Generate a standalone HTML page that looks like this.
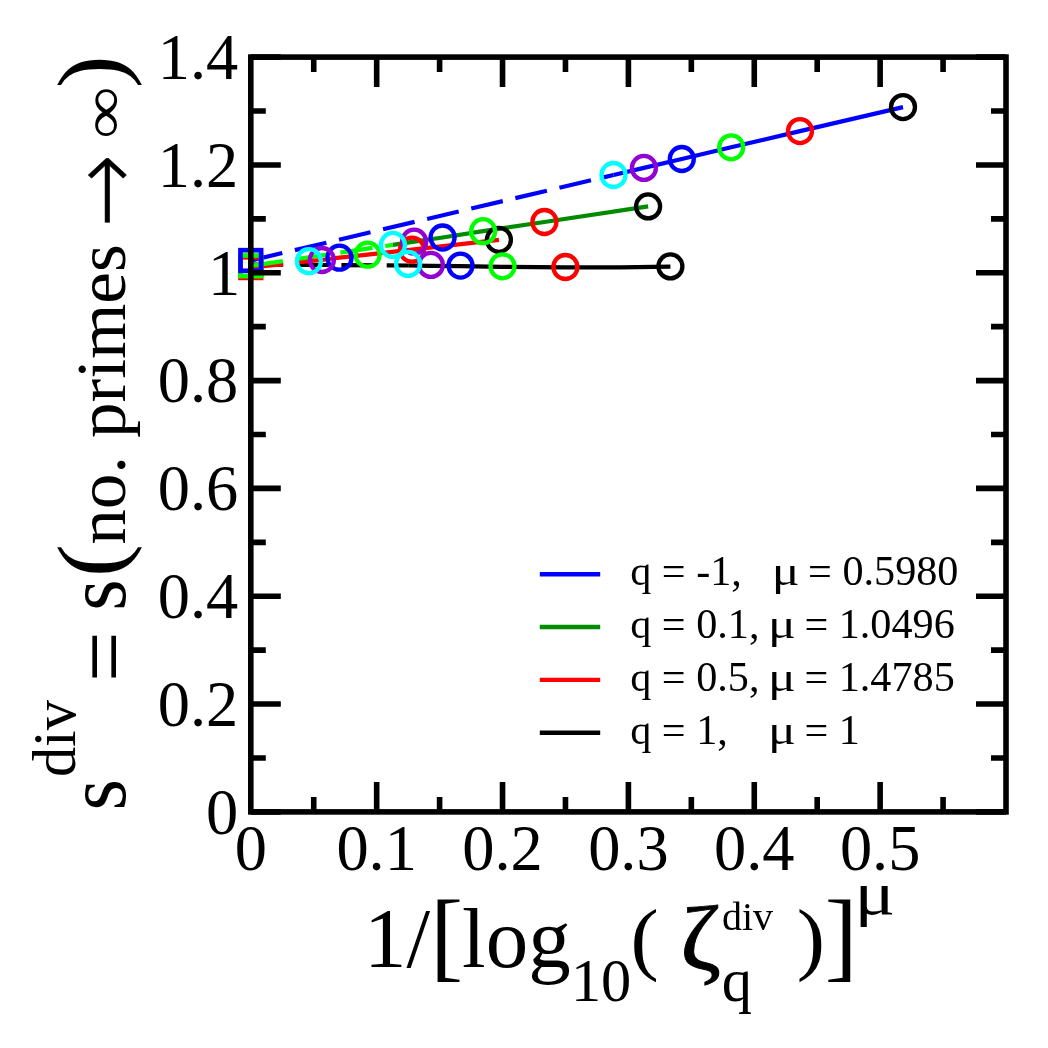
<!DOCTYPE html>
<html lang="en"><head><meta charset="utf-8"><title>s div vs 1/[log10 zeta]^mu</title>
<style>html,body{margin:0;padding:0;background:#fff}body{width:1048px;height:1048px;overflow:hidden}svg{display:block}text{font-family:"Liberation Serif","DejaVu Serif",serif;fill:#000}.tk{font-size:65.4px}.lg{font-size:42.2px}.ar{font-family:"DejaVu Sans Light","DejaVu Sans",sans-serif;stroke:#000;stroke-width:0.5px}</style></head><body>
<svg width="1048" height="1048" viewBox="0 0 1048 1048">
<rect x="0" y="0" width="1048" height="1048" fill="#fff"/>
<g fill="none" stroke-linecap="butt">
<path d="M250.8 264.5L408.2 265.5" stroke="#000" stroke-width="4.2" stroke-dasharray="32.4 12.9"/>
<path d="M250.8 267.6L308.9 261.2" stroke="#f00" stroke-width="4.2" stroke-dasharray="32.4 12.9"/>
<path d="M250.8 265.8L392.9 244.9" stroke="#0f0" stroke-width="4.2" stroke-dasharray="32.4 12.9"/>
<path d="M250.8 260.5L613.5 175" stroke="#00f" stroke-width="4.2" stroke-dasharray="32.4 12.9"/>
<path d="M670.4 266.7L620 267.3L565.4 267.4L502.5 266.8L460.5 266.2L430.9 265.8L408.2 265.5" stroke="#000" stroke-width="4.2" stroke-linejoin="round"/>
<path d="M498.9 239.8L412 249.7L367.6 254.7L339.5 257.7L321.9 260L308.9 261.2" stroke="#f00" stroke-width="4.2" stroke-linejoin="round"/>
<path d="M648.1 206.4L544.4 222L483.1 231.2L442.6 237.5L414.1 241.7L392.9 244.9" stroke="#008b00" stroke-width="4.2" stroke-linejoin="round"/>
<path d="M903 107.1L800 131.1L731.2 147.3L681.8 159L643.9 167.9L613.5 175" stroke="#00f" stroke-width="4.2" stroke-linejoin="round"/>
<rect x="240.5" y="257.3" width="20.6" height="20.6" stroke="#f00" stroke-width="4.7"/>
<rect x="240.5" y="255.5" width="20.6" height="20.6" stroke="#0f0" stroke-width="4.7"/>
<rect x="240.5" y="250.2" width="20.6" height="20.6" stroke="#00f" stroke-width="4.7"/>
<circle cx="670.4" cy="266.4" r="12" stroke="#000" stroke-width="4.3"/>
<circle cx="498.9" cy="239.8" r="12" stroke="#000" stroke-width="4.3"/>
<circle cx="648.1" cy="206.4" r="12" stroke="#000" stroke-width="4.3"/>
<circle cx="903" cy="107.1" r="12" stroke="#000" stroke-width="4.3"/>
<circle cx="565.4" cy="267" r="12" stroke="#f00" stroke-width="4.3"/>
<circle cx="412" cy="249.7" r="12" stroke="#f00" stroke-width="4.3"/>
<circle cx="544.4" cy="222" r="12" stroke="#f00" stroke-width="4.3"/>
<circle cx="800" cy="131.1" r="12" stroke="#f00" stroke-width="4.3"/>
<circle cx="502.5" cy="266.3" r="12" stroke="#0f0" stroke-width="4.3"/>
<circle cx="367.6" cy="254.7" r="12" stroke="#0f0" stroke-width="4.3"/>
<circle cx="483.1" cy="231.2" r="12" stroke="#0f0" stroke-width="4.3"/>
<circle cx="731.2" cy="147.3" r="12" stroke="#0f0" stroke-width="4.3"/>
<circle cx="460.5" cy="265.6" r="12" stroke="#00f" stroke-width="4.3"/>
<circle cx="339.5" cy="257.7" r="12" stroke="#00f" stroke-width="4.3"/>
<circle cx="442.6" cy="237.5" r="12" stroke="#00f" stroke-width="4.3"/>
<circle cx="681.8" cy="159" r="12" stroke="#00f" stroke-width="4.3"/>
<circle cx="430.9" cy="264.9" r="12" stroke="#9400d3" stroke-width="4.3"/>
<circle cx="321.9" cy="260" r="12" stroke="#9400d3" stroke-width="4.3"/>
<circle cx="414.1" cy="241.7" r="12" stroke="#9400d3" stroke-width="4.3"/>
<circle cx="643.9" cy="167.9" r="12" stroke="#9400d3" stroke-width="4.3"/>
<circle cx="408.1" cy="263.9" r="12" stroke="#0ff" stroke-width="4.3"/>
<circle cx="308.9" cy="261.2" r="12" stroke="#0ff" stroke-width="4.3"/>
<circle cx="392.9" cy="244.9" r="12" stroke="#0ff" stroke-width="4.3"/>
<circle cx="613.5" cy="175" r="12" stroke="#0ff" stroke-width="4.3"/>
</g>
<g stroke="#000" stroke-width="5.6" fill="none" stroke-linecap="butt">
<rect x="250.8" y="57.1" width="755.2" height="754.8"/>
<path d="M313.73 811.9v-15M313.73 57.1v15M376.67 811.9v-30M376.67 57.1v30M439.6 811.9v-15M439.6 57.1v15M502.53 811.9v-30M502.53 57.1v30M565.47 811.9v-15M565.47 57.1v15M628.4 811.9v-30M628.4 57.1v30M691.33 811.9v-15M691.33 57.1v15M754.27 811.9v-30M754.27 57.1v30M817.2 811.9v-15M817.2 57.1v15M880.13 811.9v-30M880.13 57.1v30M943.07 811.9v-15M943.07 57.1v15M250.8 811.9h30M1006 811.9h-30M250.8 757.99h15M1006 757.99h-15M250.8 704.07h30M1006 704.07h-30M250.8 650.16h15M1006 650.16h-15M250.8 596.24h30M1006 596.24h-30M250.8 542.33h15M1006 542.33h-15M250.8 488.41h30M1006 488.41h-30M250.8 434.5h15M1006 434.5h-15M250.8 380.59h30M1006 380.59h-30M250.8 326.67h15M1006 326.67h-15M250.8 272.76h30M1006 272.76h-30M250.8 218.84h15M1006 218.84h-15M250.8 164.93h30M1006 164.93h-30M250.8 111.01h15M1006 111.01h-15M250.8 57.1h30M1006 57.1h-30"/>
</g>
<g class="tk" text-anchor="middle">
<text transform="translate(250.8 869.6) scale(0.985 1)">0</text>
<text transform="translate(376.67 869.6) scale(0.985 1)">0.1</text>
<text transform="translate(502.53 869.6) scale(0.985 1)">0.2</text>
<text transform="translate(628.4 869.6) scale(0.985 1)">0.3</text>
<text transform="translate(754.27 869.6) scale(0.985 1)">0.4</text>
<text transform="translate(880.13 869.6) scale(0.985 1)">0.5</text>
</g>
<g class="tk" text-anchor="end">
<text transform="translate(238.2 833.7) scale(0.985 1)">0</text>
<text transform="translate(238.2 725.87) scale(0.985 1)">0.2</text>
<text transform="translate(238.2 618.04) scale(0.985 1)">0.4</text>
<text transform="translate(238.2 510.21) scale(0.985 1)">0.6</text>
<text transform="translate(238.2 402.39) scale(0.985 1)">0.8</text>
<text transform="translate(240.2 294.56) scale(0.985 1)">1</text>
<text transform="translate(238.2 186.73) scale(0.985 1)">1.2</text>
<text transform="translate(238.2 78.9) scale(0.985 1)">1.4</text>
</g>
<path d="M539.8 574.2H600.2" stroke="#00f" stroke-width="4.4" fill="none"/>
<path d="M539.8 627H600.2" stroke="#008b00" stroke-width="4.4" fill="none"/>
<path d="M539.8 679.9H600.2" stroke="#f00" stroke-width="4.4" fill="none"/>
<path d="M539.8 732.8H600.2" stroke="#000" stroke-width="4.4" fill="none"/>
<g class="lg">
<text x="630.2" y="585">q = -1,</text>
<text transform="translate(771.8 585) scale(1.23 1)">μ</text>
<text x="808.1" y="585">= 0.5980</text>
<text x="630.2" y="637.8">q = 0.1,</text>
<text transform="translate(768.1 637.8) scale(1.23 1)">μ</text>
<text x="804.4" y="637.8">= 1.0496</text>
<text x="630.2" y="690.7">q = 0.5,</text>
<text transform="translate(768.1 690.7) scale(1.23 1)">μ</text>
<text x="804.4" y="690.7">= 1.4785</text>
<text x="630.2" y="743.6">q = 1,</text>
<text transform="translate(768.1 743.6) scale(1.23 1)">μ</text>
<text x="804.4" y="743.6">= 1</text>
</g>
<g>
<text x="363.9" y="967.4" font-size="85">1/</text>
<text x="430.3" y="969.1" font-size="98.5">[</text>
<text x="462.1" y="967.4" font-size="85">log</text>
<text x="570.9" y="1001.2" font-size="60.4">10</text>
<text transform="translate(630.6 964.7) scale(1.06 1)" font-size="80">(</text>
<text transform="translate(680.3 968.5) scale(1.08 1)" font-size="91.2" stroke="#000" stroke-width="0.9">ζ</text>
<text x="722" y="930.2" font-size="40">div</text>
<text x="721.7" y="1000.6" font-size="60.4">q</text>
<text transform="translate(796.8 964.7) scale(1.06 1)" font-size="80">)</text>
<text x="824.7" y="969.1" font-size="98.5">]</text>
<text transform="translate(854.4 914.1) scale(1.23 1)" font-size="61.7">μ</text>
</g>
<g>
<text transform="translate(125 810.4) rotate(-90) scale(0.95 1)" font-size="85">s</text>
<text transform="translate(75.1 777.1) rotate(-90)" font-size="60.4">div</text>
<text transform="translate(134.9 682.1) rotate(-90) scale(1.055 1.1)" font-size="85">=</text>
<text transform="translate(125 610.7) rotate(-90) scale(0.95 1)" font-size="85">s</text>
<text transform="translate(122.3 577) rotate(-90) scale(1.05 1)" font-size="94">(</text>
<text transform="translate(125 544.8) rotate(-90) scale(1.017 1)" font-size="70">no. primes</text>
<text transform="translate(136.8 227) rotate(-90) scale(1 1.08)" font-size="87.4" class="ar">→</text>
<text transform="translate(122.8 138.8) rotate(-90) scale(1 0.79)" font-size="73.2">∞</text>
<text transform="translate(122.3 88.2) rotate(-90) scale(1.05 1)" font-size="94">)</text>
</g>
</svg></body></html>
